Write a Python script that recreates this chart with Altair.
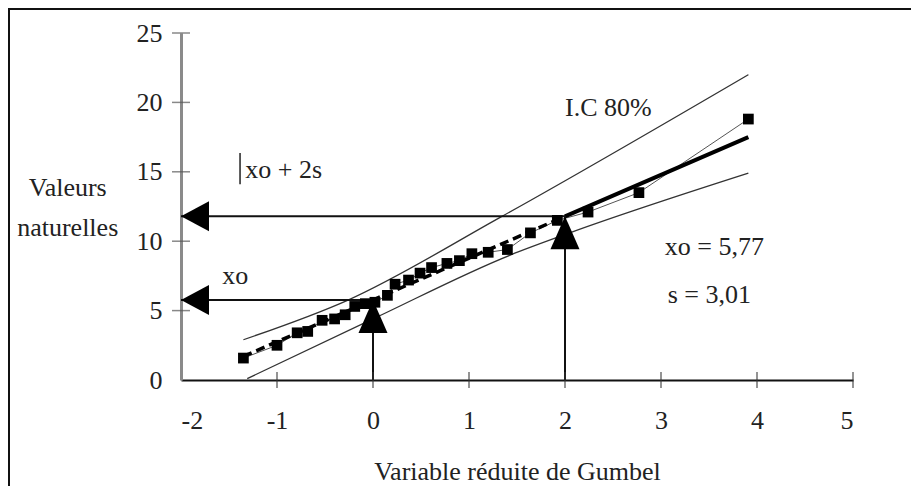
import altair as alt
import pandas as pd

# Observed points (Gumbel reduced variable, natural values)
pt_u = [-1.35, -1.0, -0.79, -0.68, -0.53, -0.40, -0.29, -0.19, -0.08, 0.02, 0.15, 0.23,
        0.37, 0.49, 0.61, 0.77, 0.90, 1.03, 1.20, 1.40, 1.64, 1.92, 2.24, 2.77, 3.91]
pt_y = [1.58, 2.5, 3.4, 3.5, 4.3, 4.4, 4.7, 5.3, 5.5, 5.6, 6.1, 6.9,
        7.2, 7.7, 8.1, 8.4, 8.6, 9.1, 9.2, 9.4, 10.6, 11.5, 12.1, 13.5, 18.8]

# Gumbel fit line (dashed part and solid part)
fit_dash_u = [-1.35, 2.0]
fit_dash_y = [1.7, 11.79]
fit_solid_u = [2.0, 3.91]
fit_solid_y = [11.79, 17.5]

# 80% confidence interval
ci_up_u = [-1.35, -0.26, 1.32, 3.91]
ci_up_y = [2.9, 5.76, 11.7, 22.0]
ci_lo_u = [-1.31, 0.0, 1.43, 2.05, 3.91]
ci_lo_y = [0.1, 4.4, 9.0, 10.6, 14.9]

xo = 5.77
xo2s = 11.79

x_ticks = [-2, -1, 0, 1, 2, 3, 4, 5]
y_ticks = [0, 5, 10, 15, 20, 25]

FONT = "Liberation Serif"
FS = 26

xs = alt.Scale(domain=[-2, 5], nice=False, zero=False)
ys = alt.Scale(domain=[0, 25], nice=False, zero=False)

pts = pd.DataFrame({"u": pt_u, "y": pt_y})

def line_df(us, vs, grp):
    return pd.DataFrame({"u": us, "y": vs, "g": [grp] * len(us)})

X = lambda: alt.X("u:Q", scale=xs)
Y = lambda: alt.Y("y:Q", scale=ys)

base_axes = alt.Chart(pd.DataFrame({"u": [-2, 5], "y": [0, 25]})).mark_point(opacity=0).encode(
    x=alt.X("u:Q", scale=xs,
            axis=alt.Axis(values=x_ticks, labelExpr="'' + datum.value", title="Variable réduite de Gumbel",
                          grid=False, ticks=False, domainColor="#111", domainWidth=2,
                          labelFont=FONT, labelFontSize=FS, labelColor="#222",
                          labelPadding=27, titleFont=FONT, titleFontSize=FS,
                          titleFontWeight="normal", titleColor="#222", titlePadding=25)),
    y=alt.Y("y:Q", scale=ys,
            axis=alt.Axis(values=y_ticks, labelExpr="'' + datum.value", title=None, grid=False, ticks=False,
                          domainColor="#8a8a8a", domainWidth=3,
                          labelFont=FONT, labelFontSize=FS, labelColor="#222",
                          labelPadding=19)),
)

xt = alt.Chart(pd.DataFrame({"u": x_ticks[1:], "y": [0] * 7})).mark_tick(
    orient="vertical", size=16, thickness=1.5, color="#333").encode(x=X(), y=Y())
yt = alt.Chart(pd.DataFrame({"u": [-2] * 5, "y": y_ticks[1:]})).mark_tick(
    orient="horizontal", size=18, thickness=1.5, color="#555").encode(x=X(), y=Y())

ci = alt.Chart(pd.concat([line_df(ci_up_u, ci_up_y, "up"), line_df(ci_lo_u, ci_lo_y, "lo")])).mark_line(
    color="#333", strokeWidth=1.3, interpolate="monotone").encode(x=X(), y=Y(), detail="g:N")

thin = alt.Chart(pts).mark_line(color="#555", strokeWidth=1).encode(x=X(), y=Y())

fit_dash = alt.Chart(line_df(fit_dash_u, fit_dash_y, "d")).mark_line(
    color="black", strokeWidth=3.5, strokeDash=[9, 5]).encode(x=X(), y=Y())
fit_solid = alt.Chart(line_df(fit_solid_u, fit_solid_y, "s")).mark_line(
    color="black", strokeWidth=4).encode(x=X(), y=Y())

squares = alt.Chart(pts).mark_square(size=115, color="black", opacity=1).encode(x=X(), y=Y())

# arrows
hlines = pd.DataFrame({"u": [-2, -2], "u2": [2, 0], "y": [xo2s, xo]})
vlines = pd.DataFrame({"u": [0, 2], "y": [0, 0], "y2": [xo, xo2s]})
har = alt.Chart(hlines).mark_rule(color="#111", strokeWidth=2).encode(
    x=alt.X("u:Q", scale=xs), x2="u2:Q", y=Y())
var = alt.Chart(vlines).mark_rule(color="#111", strokeWidth=2).encode(
    x=X(), y=alt.Y("y:Q", scale=ys), y2="y2:Q")

heads_left = alt.Chart(pd.DataFrame({"u": [-2, -2], "y": [xo2s, xo]})).mark_point(
    shape="M0,0L2,-1.07L2,1.07Z", size=784, filled=True, color="black", opacity=1,
    strokeWidth=0).encode(x=X(), y=Y())
heads_up = alt.Chart(pd.DataFrame({"u": [0, 2], "y": [xo, xo2s]})).mark_point(
    shape="M0,0L0.88,2L-0.88,2Z", size=1089, filled=True, color="black", opacity=1,
    strokeWidth=0).encode(x=X(), y=Y())

# annotations
ann = pd.DataFrame({
    "u": [2.0, -1.33, -1.57, 3.04, 3.07],
    "y": [19.6, 15.1, 7.5, 9.58, 6.1],
    "t": ["I.C 80%", "xo + 2s", "xo", "xo = 5,77", "s = 3,01"],
})
ann_t = alt.Chart(ann).mark_text(align="left", baseline="middle", font=FONT, fontSize=FS,
                                 color="#222").encode(x=X(), y=Y(), text="t:N")
cursor = alt.Chart(pd.DataFrame({"u": [-1.385], "y": [14.1], "y2": [16.35]})).mark_rule(
    color="#222", strokeWidth=1.5).encode(x=X(), y=alt.Y("y:Q", scale=ys), y2="y2:Q")

ytitle = alt.Chart(pd.DataFrame({"u": [-3.18, -3.18], "y": [13.8, 10.95],
                                 "t": ["Valeurs", "naturelles"]})).mark_text(
    align="center", baseline="middle", font=FONT, fontSize=FS, color="#222").encode(
    x=X(), y=Y(), text="t:N")

frame_top = alt.Chart(pd.DataFrame({"a": [0]})).mark_rule(color="#111", strokeWidth=2).encode(
    x=alt.value(-172), x2=alt.value(740), y=alt.value(-24))
frame_left = alt.Chart(pd.DataFrame({"a": [0]})).mark_rule(color="#111", strokeWidth=2).encode(
    x=alt.value(-172), y=alt.value(-25), y2=alt.value(480))

chart = alt.layer(
    base_axes, ci, thin, fit_dash, fit_solid, har, var, xt, yt, squares,
    heads_left, heads_up, ann_t, cursor, ytitle, frame_top, frame_left
).properties(
    width=672, height=347,
    autosize=alt.AutoSizeParams(type="none"),
    padding={"left": 173, "top": 25, "right": 58, "bottom": 106},
).configure(background="white", view=alt.ViewConfig(stroke=None))

chart.save("out.html", embed_options={"renderer": "svg", "actions": False})
